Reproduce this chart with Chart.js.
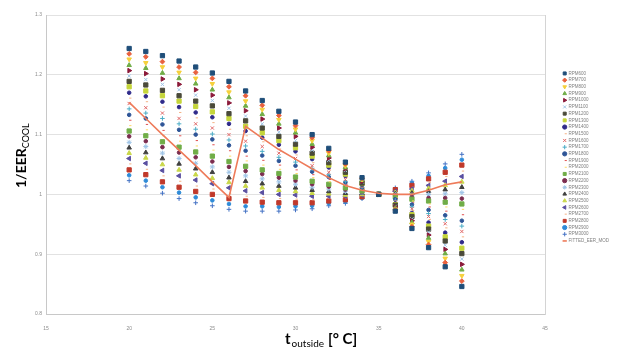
<!DOCTYPE html>
<html>
<head>
<meta charset="utf-8">
<script src="https://cdn.jsdelivr.net/npm/chart.js@4.4.1/dist/chart.umd.min.js"></script>
<style>
  html, body { margin: 0; padding: 0; background: #fff; }
  #wrap { width: 617px; height: 349px; position: relative; }
</style>
</head>
<body>
<div id="wrap"><canvas id="eerChart"></canvas></div>
<script>
// outside temperature, one column of points per degree
const temps = [20, 21, 22, 23, 24, 25, 26, 27, 28, 29, 30, 31, 32, 33, 34, 35, 36, 37, 38, 39, 40];

const rpmNames = ["RPM600", "RPM700", "RPM800", "RPM900", "RPM1000", "RPM1100", "RPM1200", "RPM1300",
  "RPM1400", "RPM1500", "RPM1600", "RPM1700", "RPM1800", "RPM1900", "RPM2000", "RPM2100", "RPM2200",
  "RPM2300", "RPM2400", "RPM2500", "RPM2600", "RPM2700", "RPM2800", "RPM2900", "RPM3000"];

// 1/EER_cool per rpm (rows follow rpmNames)
const measured = [
  [1.244, 1.239, 1.232, 1.223, 1.213, 1.203, 1.189, 1.173, 1.157, 1.139, 1.121, 1.100, 1.077, 1.054, 1.028, 1.000, 0.972, 0.943, 0.911, 0.879, 0.846],
  [1.235, 1.230, 1.222, 1.213, 1.204, 1.194, 1.180, 1.165, 1.149, 1.132, 1.115, 1.095, 1.073, 1.051, 1.027, 1.000, 0.974, 0.946, 0.916, 0.886, 0.855],
  [1.226, 1.220, 1.213, 1.204, 1.194, 1.185, 1.171, 1.156, 1.142, 1.125, 1.109, 1.090, 1.069, 1.048, 1.025, 1.000, 0.975, 0.950, 0.921, 0.893, 0.864],
  [1.216, 1.211, 1.203, 1.194, 1.185, 1.175, 1.162, 1.148, 1.134, 1.118, 1.103, 1.084, 1.065, 1.045, 1.024, 1.000, 0.977, 0.953, 0.927, 0.901, 0.874],
  [1.207, 1.202, 1.193, 1.184, 1.175, 1.166, 1.153, 1.140, 1.126, 1.111, 1.097, 1.079, 1.061, 1.043, 1.022, 1.000, 0.979, 0.956, 0.932, 0.908, 0.883],
  [1.198, 1.192, 1.184, 1.175, 1.166, 1.157, 1.144, 1.131, 1.118, 1.104, 1.090, 1.074, 1.057, 1.040, 1.021, 1.000, 0.980, 0.959, 0.937, 0.915, 0.892],
  [1.189, 1.183, 1.174, 1.165, 1.156, 1.148, 1.135, 1.123, 1.111, 1.097, 1.084, 1.069, 1.053, 1.037, 1.019, 1.000, 0.982, 0.963, 0.942, 0.922, 0.901],
  [1.180, 1.173, 1.165, 1.156, 1.147, 1.138, 1.127, 1.114, 1.103, 1.090, 1.078, 1.064, 1.049, 1.034, 1.018, 1.000, 0.983, 0.966, 0.947, 0.929, 0.910],
  [1.170, 1.164, 1.155, 1.146, 1.137, 1.129, 1.118, 1.106, 1.095, 1.083, 1.072, 1.059, 1.045, 1.031, 1.016, 1.000, 0.985, 0.969, 0.953, 0.936, 0.920],
  [1.161, 1.155, 1.146, 1.137, 1.128, 1.120, 1.109, 1.098, 1.088, 1.076, 1.066, 1.053, 1.041, 1.028, 1.015, 1.000, 0.987, 0.973, 0.958, 0.944, 0.929],
  [1.152, 1.145, 1.136, 1.127, 1.118, 1.111, 1.100, 1.089, 1.080, 1.069, 1.060, 1.048, 1.037, 1.025, 1.013, 1.000, 0.988, 0.976, 0.963, 0.951, 0.938],
  [1.143, 1.136, 1.127, 1.118, 1.109, 1.101, 1.091, 1.081, 1.072, 1.062, 1.054, 1.043, 1.033, 1.022, 1.012, 1.000, 0.990, 0.979, 0.968, 0.958, 0.947],
  [1.133, 1.127, 1.117, 1.108, 1.100, 1.092, 1.082, 1.073, 1.065, 1.056, 1.048, 1.038, 1.029, 1.020, 1.011, 1.000, 0.992, 0.983, 0.974, 0.965, 0.956],
  [1.124, 1.117, 1.107, 1.098, 1.090, 1.083, 1.073, 1.064, 1.057, 1.049, 1.041, 1.033, 1.025, 1.017, 1.009, 1.000, 0.993, 0.986, 0.979, 0.972, 0.966],
  [1.115, 1.108, 1.098, 1.089, 1.081, 1.074, 1.064, 1.056, 1.049, 1.042, 1.035, 1.028, 1.021, 1.014, 1.008, 1.000, 0.995, 0.989, 0.984, 0.979, 0.975],
  [1.106, 1.098, 1.088, 1.079, 1.071, 1.064, 1.055, 1.047, 1.041, 1.035, 1.029, 1.022, 1.017, 1.011, 1.006, 1.000, 0.996, 0.992, 0.989, 0.987, 0.984],
  [1.097, 1.089, 1.079, 1.070, 1.062, 1.055, 1.046, 1.039, 1.034, 1.028, 1.023, 1.017, 1.013, 1.008, 1.005, 1.000, 0.998, 0.996, 0.994, 0.994, 0.993],
  [1.087, 1.080, 1.069, 1.060, 1.052, 1.046, 1.037, 1.031, 1.026, 1.021, 1.017, 1.012, 1.009, 1.005, 1.003, 1.000, 1.000, 0.999, 1.000, 1.001, 1.003],
  [1.078, 1.070, 1.060, 1.051, 1.043, 1.037, 1.028, 1.022, 1.018, 1.014, 1.011, 1.007, 1.005, 1.002, 1.002, 1.000, 1.001, 1.002, 1.005, 1.008, 1.012],
  [1.069, 1.061, 1.050, 1.041, 1.033, 1.027, 1.020, 1.014, 1.011, 1.007, 1.005, 1.002, 1.001, 0.999, 1.000, 1.000, 1.003, 1.006, 1.010, 1.015, 1.021],
  [1.060, 1.052, 1.040, 1.031, 1.024, 1.018, 1.011, 1.006, 1.003, 1.000, 0.999, 0.997, 0.997, 0.997, 0.999, 1.000, 1.005, 1.009, 1.015, 1.022, 1.030],
  [1.051, 1.042, 1.031, 1.022, 1.014, 1.009, 1.002, 0.997, 0.995, 0.993, 0.992, 0.991, 0.993, 0.994, 0.997, 1.000, 1.006, 1.012, 1.020, 1.030, 1.039],
  [1.041, 1.033, 1.021, 1.012, 1.005, 1.000, 0.993, 0.989, 0.987, 0.986, 0.986, 0.986, 0.989, 0.991, 0.996, 1.000, 1.008, 1.015, 1.026, 1.037, 1.049],
  [1.032, 1.023, 1.012, 1.003, 0.995, 0.990, 0.984, 0.980, 0.980, 0.979, 0.980, 0.981, 0.985, 0.988, 0.994, 1.000, 1.009, 1.019, 1.031, 1.044, 1.058],
  [1.023, 1.014, 1.002, 0.993, 0.986, 0.981, 0.975, 0.972, 0.972, 0.972, 0.974, 0.976, 0.981, 0.985, 0.993, 1.000, 1.011, 1.022, 1.036, 1.051, 1.067]
];

const fittedLabel = "FITTED_EER_MOD";
const fitted = [1.154, 1.127, 1.100, 1.074, 1.048, 1.021, 0.995, 1.114, 1.094, 1.075, 1.059, 1.043, 1.028, 1.015, 1.007, 1.002, 1.000, 1.000, 1.007, 1.016, 1.021];

// excel-ish marker cycle
const markerColors = ["#1f4e79", "#e8613f", "#f5d03c", "#70ad47", "#8b1a3a", "#9dc3e6", "#4a4a3a", "#c5d53a",
  "#2f2a8a", "#f4b183", "#e06666", "#4bacc6", "#2e5597", "#e05050", "#ffd966", "#70ad47", "#7b2c4f",
  "#9dc3e6", "#404040", "#c9d74a", "#5a4fa0", "#f4b183", "#c0392b", "#2e8bd8", "#4472c4"];
const markerStyles = ["rect", "rectRot", "triangle", "triangle", "triangle", "crossRot", "rect", "rect",
  "circle", "dash", "crossRot", "cross", "circle", "dash", "dash", "rect", "circle",
  "star", "triangle", "triangle", "triangle", "dash", "rect", "circle", "cross"];
const markerRotation = [0, 0, 180, 0, 90, 0, 0, 0, 0, 0, 0, 0, 0, 0, 0, 0, 0, 0, 0, 0, 270, 0, 0, 0, 0];
const sizeByStyle = { rect: 3.0, rectRot: 2.4, triangle: 2.6, circle: 1.8, cross: 2.3, crossRot: 2.3, dash: 2.3, star: 2.5 };

const datasets = measured.map((row, i) => ({
  label: rpmNames[i],
  data: temps.map((t, j) => ({ x: t, y: row[j] })),
  showLine: false,
  pointStyle: markerStyles[i],
  rotation: markerRotation[i],
  pointRadius: sizeByStyle[markerStyles[i]],
  pointBorderWidth: 1,
  borderColor: markerColors[i],
  backgroundColor: markerColors[i],
}));

datasets.push({
  label: fittedLabel,
  data: temps.map((t, j) => ({ x: t, y: fitted[j] })),
  showLine: true,
  borderColor: "#ee7b5a",
  backgroundColor: "#ee7b5a",
  borderWidth: 1.6,
  pointRadius: 0,
  pointStyle: "line",
  order: -1,
});

const axisTitles = {
  id: "axisTitles",
  afterDraw(chart) {
    const ctx = chart.ctx;
    ctx.save();
    ctx.fillStyle = "#000";
    ctx.textBaseline = "alphabetic";
    ctx.textAlign = "left";

    // y title, rotated
    ctx.translate(26, 188);
    ctx.rotate(-Math.PI / 2);
    ctx.font = "bold 14px Lato";
    ctx.fillText("1/EER", 0, 0);
    let w = ctx.measureText("1/EER").width;
    ctx.font = "9px Lato";
    ctx.fillText("COOL", w, 3);
    ctx.setTransform(1, 0, 0, 1, 0, 0);

    // x title
    let x = 285;
    ctx.font = "bold 15px Lato";
    ctx.fillText("t", x, 344);
    x += ctx.measureText("t").width + 1;
    ctx.font = "10px Lato";
    ctx.fillText("outside", x, 347);
    x += ctx.measureText("outside").width + 4;
    ctx.font = "bold 15px Lato";
    ctx.fillText("[° C]", x, 344);
    ctx.restore();
  },
};

new Chart(document.getElementById("eerChart"), {
  type: "line",
  data: { datasets },
  plugins: [axisTitles],
  options: {
    responsive: true,
    maintainAspectRatio: false,
    animation: false,
    layout: { padding: { top: 15, right: 0, bottom: 0, left: 0 } },
    plugins: {
      tooltip: { enabled: false },
      legend: {
        position: "right",
        align: "start",
        maxWidth: 56,
        title: { display: true, text: "", font: { size: 1 }, padding: { top: 52.8, bottom: 0 } },
        labels: {
          usePointStyle: true,
          boxWidth: 3,
          boxHeight: 3,
          padding: 2.2,
          color: "#7f7f7f",
          font: { size: 4.5, family: "Liberation Sans" },
          sort: (a, b) => a.datasetIndex - b.datasetIndex,
        },
      },
    },
    scales: {
      x: {
        type: "linear",
        min: 15,
        max: 45,
        ticks: { stepSize: 5, color: "#8c8c8c", font: { size: 5 }, padding: 4 },
        grid: { display: false },
        border: { display: true, color: "#c8c8c8" },
        afterFit: (s) => { s.height = 35; },
      },
      y: {
        min: 0.8,
        max: 1.3,
        ticks: {
          stepSize: 0.1,
          color: "#8c8c8c",
          font: { size: 5 },
          padding: 4,
          callback: (v) => String(Number(v.toFixed(1))),
        },
        grid: { color: "#e2e2e2", drawTicks: false },
        border: { display: true, color: "#c8c8c8" },
        afterFit: (s) => { s.width = 46; },
      },
      yRight: {
        position: "right",
        min: 0.8,
        max: 1.3,
        ticks: { display: false },
        grid: { display: false },
        border: { display: true, color: "#d4d4d4" },
        afterFit: (s) => { s.width = 16; },
      },
    },
  },
});
</script>
</body>
</html>
